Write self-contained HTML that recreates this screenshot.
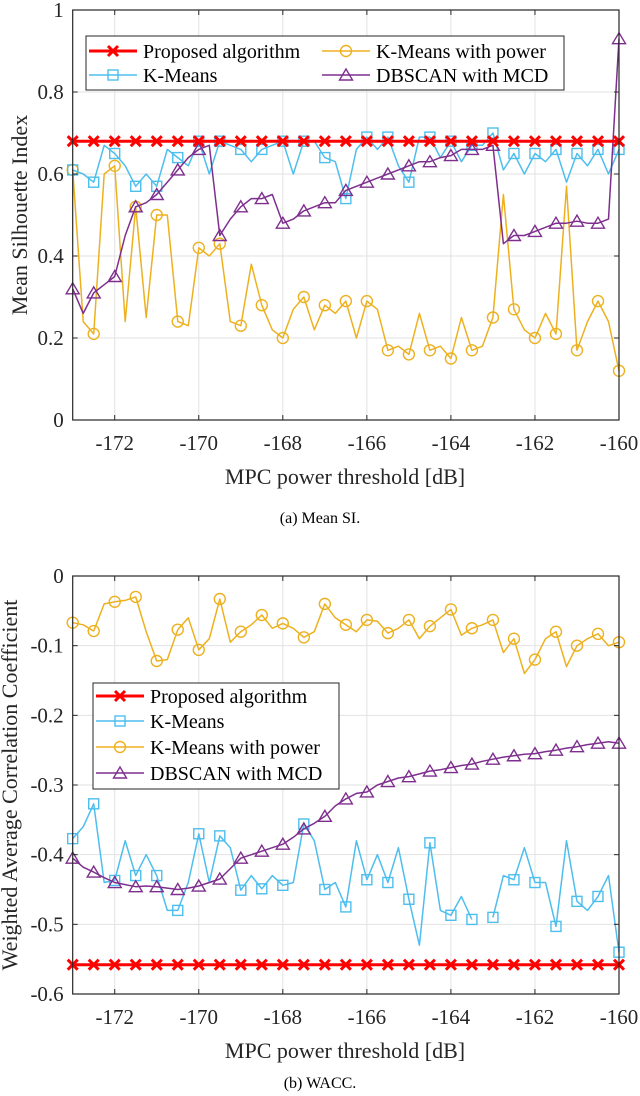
<!DOCTYPE html>
<html><head><meta charset="utf-8"><style>
html,body{margin:0;padding:0;background:#fff;}
svg{display:block;font-family:"Liberation Serif",serif;}
svg text{font-family:"Liberation Serif",serif;}
</style></head><body>
<svg id="svg" width="640" height="1096" viewBox="0 0 640 1096" xmlns="http://www.w3.org/2000/svg"></svg>
<script>
const xStart=-173, xStep=0.25;
const xTicks=[-172,-170,-168,-166,-164,-162,-160];
const topYTicks=[0,0.2,0.4,0.6,0.8,1];
const topYLabels=["0","0.2","0.4","0.6","0.8","1"];
const botYTicks=[0,-0.1,-0.2,-0.3,-0.4,-0.5,-0.6];
const botYLabels=["0","-0.1","-0.2","-0.3","-0.4","-0.5","-0.6"];
const topProposed=0.68;
const topKMeans=[0.61,0.60,0.58,0.67,0.65,0.62,0.57,0.60,0.57,0.66,0.64,0.62,0.68,0.60,0.68,0.67,0.66,0.63,0.66,0.67,0.68,0.60,0.68,0.68,0.64,0.63,0.54,0.66,0.69,0.66,0.69,0.62,0.58,0.69,0.69,0.64,0.68,0.63,0.67,0.67,0.70,0.61,0.65,0.60,0.65,0.63,0.66,0.58,0.65,0.62,0.66,0.60,0.66];
const topKMeansPower=[0.61,0.24,0.21,0.60,0.62,0.24,0.52,0.25,0.50,0.50,0.24,0.23,0.42,0.40,0.43,0.24,0.23,0.38,0.28,0.22,0.20,0.27,0.30,0.22,0.28,0.26,0.29,0.20,0.29,0.27,0.17,0.18,0.16,0.26,0.17,0.18,0.15,0.25,0.17,0.18,0.25,0.55,0.27,0.22,0.20,0.26,0.21,0.57,0.17,0.24,0.29,0.24,0.12];
const topDBSCAN=[0.32,0.26,0.31,0.33,0.35,0.45,0.52,0.53,0.55,0.58,0.61,0.64,0.66,0.67,0.45,0.49,0.52,0.54,0.54,0.55,0.48,0.49,0.51,0.52,0.53,0.53,0.56,0.57,0.58,0.59,0.60,0.61,0.62,0.63,0.63,0.64,0.645,0.66,0.66,0.66,0.67,0.43,0.45,0.45,0.46,0.47,0.48,0.48,0.485,0.48,0.48,0.49,0.93];
const botProposed=-0.558;
const botKMeans=[-0.377,-0.36,-0.327,-0.44,-0.437,-0.38,-0.43,-0.40,-0.43,-0.48,-0.48,-0.44,-0.37,-0.44,-0.373,-0.39,-0.451,-0.43,-0.449,-0.43,-0.444,-0.44,-0.356,-0.38,-0.45,-0.44,-0.475,-0.38,-0.436,-0.40,-0.44,-0.39,-0.464,-0.53,-0.383,-0.48,-0.487,-0.46,-0.493,null,-0.49,-0.43,-0.436,-0.39,-0.44,-0.44,-0.503,-0.38,-0.467,-0.48,-0.46,-0.43,-0.54];
const botKMeansPower=[-0.067,-0.07,-0.079,-0.04,-0.037,-0.035,-0.030,-0.08,-0.122,-0.12,-0.077,-0.06,-0.106,-0.09,-0.033,-0.095,-0.080,-0.07,-0.056,-0.075,-0.068,-0.075,-0.088,-0.08,-0.040,-0.06,-0.070,-0.08,-0.063,-0.065,-0.082,-0.075,-0.063,-0.09,-0.072,-0.06,-0.048,-0.085,-0.075,-0.07,-0.063,-0.11,-0.090,-0.14,-0.120,-0.09,-0.080,-0.13,-0.100,-0.09,-0.083,-0.10,-0.095];
const botDBSCAN=[-0.405,-0.418,-0.425,-0.433,-0.44,-0.443,-0.446,-0.445,-0.446,-0.448,-0.45,-0.448,-0.445,-0.44,-0.435,-0.42,-0.405,-0.40,-0.395,-0.39,-0.385,-0.375,-0.363,-0.355,-0.345,-0.33,-0.32,-0.312,-0.31,-0.30,-0.295,-0.29,-0.288,-0.284,-0.28,-0.278,-0.275,-0.272,-0.27,-0.266,-0.263,-0.26,-0.258,-0.256,-0.255,-0.252,-0.25,-0.247,-0.245,-0.242,-0.24,-0.238,-0.24];

const NS="http://www.w3.org/2000/svg";
const FONT='"Liberation Serif", serif';
const svg=document.getElementById('svg');
function mk(tag,attrs,parent){const e=document.createElementNS(NS,tag);for(const k in attrs)e.setAttribute(k,attrs[k]);if(tag==='text')e.setAttribute('font-family',FONT);(parent||svg).appendChild(e);return e;}
const PL=72.7, PR=619;
function xs(v){return PL+(v-xStart)/(-160-xStart)*(PR-PL);}
const RED="#FF0000",BLUE="#4DBEEE",ORANGE="#EDB120",PURPLE="#7E2F8E";

function marker(g,type,x,y,color){
  let m;
  if(type==='x'){m=mk('path',{d:`M${x-5},${y-5}L${x+5},${y+5}M${x-5},${y+5}L${x+5},${y-5}`,stroke:color,'stroke-width':3,fill:'none'},g);}
  else if(type==='s'){m=mk('rect',{x:x-5,y:y-5,width:10,height:10,stroke:color,'stroke-width':1.4,fill:'none'},g);}
  else if(type==='o'){m=mk('circle',{cx:x,cy:y,r:5.5,stroke:color,'stroke-width':1.4,fill:'none'},g);}
  else {m=mk('path',{d:`M${x},${y-6}L${x+6.5},${y+5}L${x-6.5},${y+5}Z`,stroke:color,'stroke-width':1.4,fill:'none'},g);}
  return m;
}

function drawChart(o){
  const ys=v=>o.y0px+(v-o.y0)/(o.y1-o.y0)*(o.y1px-o.y0px);
  const g=mk('g',{});
  
  
  const top=Math.min(o.y0px,o.y1px), bot=Math.max(o.y0px,o.y1px);
  mk('rect',{x:PL,y:top,width:PR-PL,height:bot-top,fill:'#fff'},g);
  const grid=mk('g',{},g);
  
  
  xTicks.forEach(t=>mk('line',{x1:xs(t),x2:xs(t),y1:top,y2:bot,stroke:'#e2e2e2','stroke-width':1},grid));
  o.yTicks.forEach(t=>mk('line',{x1:PL,x2:PR,y1:ys(t),y2:ys(t),stroke:'#e2e2e2','stroke-width':1},grid));
  const series=[
    {n:'proposed-algorithm',vals:Array(53).fill(o.prop),c:RED,m:'x',w:3},
    {n:'k-means',vals:o.km,c:BLUE,m:'s',w:1.5},
    {n:'k-means-with-power',vals:o.kmp,c:ORANGE,m:'o',w:1.5},
    {n:'dbscan-with-mcd',vals:o.db,c:PURPLE,m:'t',w:1.5}];
  o.order.forEach(si=>{
    const s=series[si];
    const sg=mk('g',{},g);
    
    
    let d='',pen=false;
    s.vals.forEach((v,i)=>{
      if(v===null){pen=false;return;}
      const x=xs(xStart+i*xStep),y=ys(v);
      d+=(pen?'L':'M')+x.toFixed(1)+','+y.toFixed(1);pen=true;
    });
    mk('path',{d:d,stroke:s.c,'stroke-width':s.w,fill:'none','stroke-linejoin':'round'},sg);
    s.vals.forEach((v,i)=>{
      if(i%2!==0||v===null)return;
      const m=marker(sg,s.m,xs(xStart+i*xStep),ys(v),s.c);
      
      
    });
  });
  mk('rect',{x:PL,y:top,width:PR-PL,height:bot-top,fill:'none',stroke:'#262626','stroke-width':1.2},g);
  xTicks.forEach(t=>{
    mk('line',{x1:xs(t),x2:xs(t),y1:bot,y2:bot-5,stroke:'#262626'},g);
    mk('line',{x1:xs(t),x2:xs(t),y1:top,y2:top+5,stroke:'#262626'},g);
    const tx=mk('text',{x:xs(t),y:bot+30,'font-size':21,'text-anchor':'middle',fill:'#262626'},g);
    tx.textContent=String(t);
    
    
  });
  o.yTicks.forEach((t,i)=>{
    mk('line',{x1:PL,x2:PL+5,y1:ys(t),y2:ys(t),stroke:'#262626'},g);
    mk('line',{x1:PR,x2:PR-5,y1:ys(t),y2:ys(t),stroke:'#262626'},g);
    const tx=mk('text',{x:PL-9,y:ys(t)+7,'font-size':21,'text-anchor':'end',fill:'#262626'},g);
    tx.textContent=o.yLabels[i];
    
    
  });
  const xt=mk('text',{x:345,y:bot+64,'font-size':22,'text-anchor':'middle',fill:'#262626'},g);
  xt.textContent='MPC power threshold [dB]';
  
  
  const yt=mk('text',{x:0,y:0,'font-size':22,'text-anchor':'middle',fill:'#262626',transform:`translate(${o.ytx},${(top+bot)/2}) rotate(-90)`},g);
  yt.textContent=o.ytitle;
  
  
  const lg=mk('g',{},g);
  
  
  mk('rect',{x:o.leg.x,y:o.leg.y,width:o.leg.w,height:o.leg.h,fill:'#fff',stroke:'#262626','stroke-width':1},lg);
  o.leg.items.forEach(it=>{
    const s=series[it.s];
    const e=mk('g',{},lg);
    
    
    mk('line',{x1:it.x,x2:it.x+48,y1:it.y,y2:it.y,stroke:s.c,'stroke-width':s.w},e);
    marker(e,s.m,it.x+24,it.y,s.c);
    const tx=mk('text',{x:it.x+54,y:it.y+7,'font-size':20,fill:'#000'},e);
    tx.textContent=it.t;
  });
}

drawChart({name:'mean-si-chart',y0:0,y1:1,y0px:420,y1px:10,yTicks:topYTicks,yLabels:topYLabels,
  prop:topProposed,km:topKMeans,kmp:topKMeansPower,db:topDBSCAN,order:[2,1,3,0],
  ytitle:'Mean Silhouette Index',ytx:27,
  leg:{x:86,y:36,w:478,h:54,items:[
    {s:0,x:89,y:51,t:'Proposed algorithm'},{s:1,x:89,y:75,t:'K-Means'},
    {s:2,x:322,y:51,t:'K-Means with power'},{s:3,x:322,y:75,t:'DBSCAN with MCD'}]}});
drawChart({name:'wacc-chart',y0:0,y1:-0.6,y0px:576,y1px:994,yTicks:botYTicks,yLabels:botYLabels,
  prop:botProposed,km:botKMeans,kmp:botKMeansPower,db:botDBSCAN,order:[2,1,3,0],
  ytitle:'Weighted Average Correlation Coefficient',ytx:17,
  leg:{x:93,y:683,w:246,h:106,items:[
    {s:0,x:96,y:696,t:'Proposed algorithm'},{s:1,x:96,y:721,t:'K-Means'},
    {s:2,x:96,y:747,t:'K-Means with power'},{s:3,x:96,y:773,t:'DBSCAN with MCD'}]}});

const c1=mk('text',{x:320,y:523,'font-size':16,'text-anchor':'middle',fill:'#000'});
c1.textContent='(a)  Mean SI.';


const c2=mk('text',{x:320,y:1088,'font-size':16,'text-anchor':'middle',fill:'#000'});
c2.textContent='(b)  WACC.';


</script>
</body></html>
